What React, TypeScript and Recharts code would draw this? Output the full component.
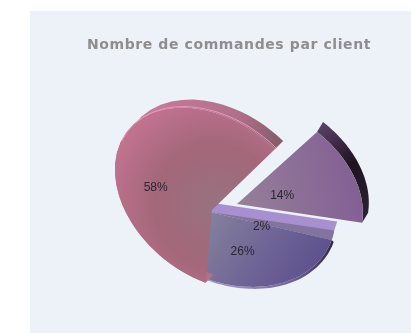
import React from "react";
import { PieChart, Pie } from "recharts";

const TITLE = "Nombre de commandes par client";
const names = ["c2", "c26", "c58", "c14"];
const values = [2, 26, 58, 14];
const labels = ["2%", "26%", "58%", "14%"];
const data = names.map((name, i) => ({ name, value: values[i], label: labels[i] }));

// Perspective look: styling of the faces, not data
const E_PURPLE = { cx: 228, cy: 198, a: 112, b: 83, tilt: 25 };
const E_PINK = { cx: 214, cy: 199, a: 110, b: 78, tilt: 38 };
const E_VIOLET = { cx: 250, cy: 190, a: 118, b: 85, tilt: 25 };
const STYLE = [
  { apex: [-2, 2], ell: E_PURPLE, psi: [-8.5, -12.9], depth: [3, -9], wedge: true, face: "#82739f", side: "#a88fcf", labelF: 0.43, labelPsi: -15 },
  { apex: [-2, 2], ell: E_PURPLE, psi: [-12.9, -95], depth: [2, 2], wedge: false, face: "url(#gPurple)", side: "url(#gPurpleSide)", labelF: 0.53, labelPsi: -50 },
  { apex: [0, 0], ell: E_PINK, psi: [-95, -316], depth: [8, -8], wedge: false, face: "url(#gPink)", side: "url(#gPinkSide)", labelF: 0.58, labelPsi: 158 - 360 },
  { apex: [25, -6], ell: E_VIOLET, psi: [-318, -368.5], depth: [6, -10], wedge: false, face: "url(#gViolet)", side: "url(#gDark)", labelF: 0.38, labelPsi: 11 - 360 },
];

function boundary(ell: any, ax: number, ay: number, deg: number) {
  const t = (deg * Math.PI) / 180;
  const tilt = (ell.tilt * Math.PI) / 180;
  const dx = Math.cos(t), dy = -Math.sin(t);
  const c = Math.cos(tilt), s = Math.sin(tilt);
  const px = ax - ell.cx, py = ay - ell.cy;
  const u0 = (c * px + s * py) / ell.a, v0 = (-s * px + c * py) / ell.b;
  const du = (c * dx + s * dy) / ell.a, dv = (-s * dx + c * dy) / ell.b;
  const A = du * du + dv * dv, B = 2 * (u0 * du + v0 * dv), C = u0 * u0 + v0 * v0 - 1;
  const r = (-B + Math.sqrt(Math.max(0, B * B - 4 * A * C))) / (2 * A);
  return [ax + dx * r, ay + dy * r, r];
}

const toPath = (pts: number[][]) => pts.map((p, i) => `${i ? "L" : "M"}${p[0].toFixed(1)} ${p[1].toFixed(1)}`).join("") + "Z";

function Slice(props: any) {
  const st = STYLE[props.index];
  const ax = props.cx + st.apex[0], ay = props.cy + st.apex[1];
  const n = 40;
  const arc: number[][] = [];
  for (let i = 0; i <= n; i++) {
    const psi = st.psi[0] + ((st.psi[1] - st.psi[0]) * i) / n;
    arc.push(boundary(st.ell, ax, ay, psi));
  }
  const [dx, dy] = st.depth;
  const shifted = arc.map((p) => [p[0] + dx, p[1] + dy]);
  const ribbon = st.wedge
    ? [[ax, ay], [ax + dx, ay + dy], shifted[0], arc[0], arc[n], [ax, ay]]
    : [...arc, ...shifted.slice().reverse()];
  return (
    <g>
      <path d={toPath(ribbon)} fill={st.side} />
      <path d={toPath([[ax, ay], ...arc])} fill={st.face} />
      {props.index === 2 && (
        <path
          d={arc.slice(22).map((p, i) => `${i ? "L" : "M"}${p[0] + 1} ${p[1] - 1}`).join("")}
          fill="none"
          stroke="#e79ab8"
          strokeWidth={1}
        />
      )}
    </g>
  );
}

function SliceLabel(props: any) {
  const st = STYLE[props.index];
  const ax = props.cx + st.apex[0], ay = props.cy + st.apex[1];
  const b = boundary(st.ell, ax, ay, st.labelPsi);
  const t = (st.labelPsi * Math.PI) / 180;
  const x = ax + Math.cos(t) * b[2] * st.labelF;
  const y = ay - Math.sin(t) * b[2] * st.labelF;
  return (
    <text x={x} y={y} textAnchor="middle" dominantBaseline="central" fontFamily="Liberation Sans" fontSize={12} fill="#2a2630">
      {props.payload?.label ?? labels[props.index]}
    </text>
  );
}

export default function App() {
  return (
    <div style={{ position: "absolute", left: 0, top: 0, width: 411, height: 333, background: "#fff", overflow: "hidden" }}>
      <div style={{ position: "absolute", left: 30, top: 11, width: 381, height: 322, background: "#edf1f8" }} />
      <div style={{ position: "absolute", left: 0, top: 0, filter: "blur(0.5px)" }}>
        <PieChart width={411} height={333} margin={{ top: 0, right: 0, bottom: 0, left: 0 }}>
          <defs>
            <radialGradient id="gPink" gradientUnits="userSpaceOnUse" cx={215} cy={205} r={110}>
              <stop offset="0" stopColor="#98727f" />
              <stop offset="0.55" stopColor="#a3677a" />
              <stop offset="1" stopColor="#c0728f" />
            </radialGradient>
            <linearGradient id="gPinkSide" gradientUnits="userSpaceOnUse" x1={150} y1={110} x2={295} y2={135}>
              <stop offset="0" stopColor="#c77a98" />
              <stop offset="0.6" stopColor="#b0708a" />
              <stop offset="1" stopColor="#7a565e" />
            </linearGradient>
            <linearGradient id="gPurple" gradientUnits="userSpaceOnUse" x1={210} y1={215} x2={320} y2={285}>
              <stop offset="0" stopColor="#84809c" />
              <stop offset="0.5" stopColor="#6f6496" />
              <stop offset="1" stopColor="#5a4d8c" />
            </linearGradient>
            <linearGradient id="gPurpleSide" gradientUnits="userSpaceOnUse" x1={335} y1={235} x2={240} y2={290}>
              <stop offset="0" stopColor="#2a2238" />
              <stop offset="0.5" stopColor="#6a5c90" />
              <stop offset="1" stopColor="#9a90c0" />
            </linearGradient>
            <linearGradient id="gViolet" gradientUnits="userSpaceOnUse" x1={240} y1={205} x2={360} y2={180}>
              <stop offset="0" stopColor="#957f99" />
              <stop offset="1" stopColor="#835f94" />
            </linearGradient>
            <linearGradient id="gDark" gradientUnits="userSpaceOnUse" x1={320} y1={125} x2={370} y2={210}>
              <stop offset="0" stopColor="#5c4168" />
              <stop offset="0.5" stopColor="#1e1420" />
              <stop offset="1" stopColor="#2a2230" />
            </linearGradient>
          </defs>
          <text x={229} y={49} textAnchor="middle" fontFamily="DejaVu Sans" fontWeight="bold" fontSize={14} letterSpacing={0.6} fill="#8e8e8e">
            {TITLE}
          </text>
          <Pie
            data={data}
            dataKey="value"
            nameKey="name"
            cx={212}
            cy={210}
            outerRadius={100}
            startAngle={-3.4}
            endAngle={-363.4}
            paddingAngle={0}
            stroke="none"
            shape={Slice}
            label={SliceLabel}
            labelLine={false}
            isAnimationActive={false}
          />
        </PieChart>
      </div>
    </div>
  );
}
